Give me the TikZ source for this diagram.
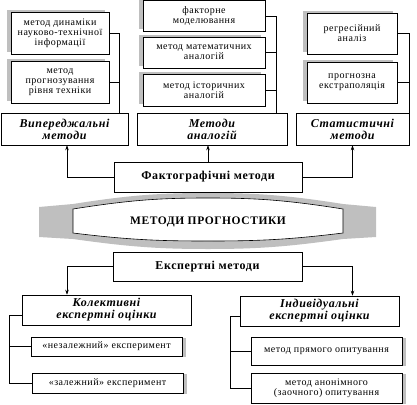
\documentclass[tikz,border=0pt]{standalone}
\usepackage{fontspec}
\setmainfont[LetterSpace=5]{Liberation Serif}
\usetikzlibrary{arrows.meta, shadows}

\begin{document}
\begin{tikzpicture}[x=1pt, y=-1pt,
    every node/.style={font=\fontsize{10}{10}\selectfont},
    box/.style={
        rectangle, draw=black, line width=0.6pt,
        fill=white, align=center, inner sep=1pt
    },
    upbox/.style={box,
        general shadow={fill=black!25, shadow xshift=-4pt, shadow yshift=2pt}},
    downbox/.style={box,
        general shadow={fill=black!25, shadow xshift=4pt, shadow yshift=-1pt}},
    titlebox/.style={box, font=\fontsize{12}{12}\selectfont\bfseries\itshape},
    mainbox/.style={box, font=\fontsize{12}{12}\selectfont\bfseries},
    link/.style={line width=0.6pt},
    arrow/.style={link, -{Stealth[length=5pt, width=3.5pt]}},
]
\useasboundingbox (0,0) rectangle (417,404);

% Шини
\coordinate (lbus) at (119,0);
\coordinate (mbus) at (276,0);
\coordinate (lcol) at (67,0);
\coordinate (kbus) at (9,0);
\coordinate (ibus) at (230,0);

% Випереджальні методи
\node[upbox, minimum width=98, minimum height=42] (dyn) at (60,33)
    {метод динаміки\\науково-технічної\\інформації};
\node[upbox, minimum width=98, minimum height=42] (prog) at (60,82)
    {метод\\прогнозування\\рівня техніки};
\node[titlebox, minimum width=127, minimum height=32] (vyp) at (64.5,129)
    {Випереджальні\\методи};

% Методи аналогій
\node[upbox, minimum width=122, minimum height=31] (fact) at (204,16)
    {факторне\\моделювання};
\node[upbox, minimum width=122, minimum height=31] (math) at (204,52.5)
    {метод математичних\\аналогій};
\node[upbox, minimum width=122, minimum height=32] (hist) at (204,90)
    {метод історичних\\аналогій};
\node[titlebox, minimum width=150, minimum height=32] (anal) at (212,129)
    {Методи\\аналогій};

% Статистичні методи
\node[upbox, minimum width=90, minimum height=41] (regr) at (352,33.5)
    {регресійний\\аналіз};
\node[upbox, minimum width=90, minimum height=41] (extr) at (352,82.5)
    {прогнозна\\екстраполяція};
\node[titlebox, minimum width=113, minimum height=32] (stat) at (352.5,129)
    {Статистичні\\методи};

\node[mainbox, minimum width=188, minimum height=30] (factogr) at (208,177)
    {Фактографічні методи};

% Стрічка
\fill[black!25] (39,207) -- (73,204)
    .. controls (130,195) and (160,193) .. (208,193)
    .. controls (256,193) and (286,195) .. (343,204)
    -- (376,207) -- (376,237) -- (343,239)
    .. controls (286,247) and (256,249) .. (208,249)
    .. controls (160,249) and (130,247) .. (73,239)
    -- (39,237) -- cycle;
\draw[link, fill=white] (73,209)
    .. controls (130,200) and (160,198) .. (208,198)
    .. controls (256,198) and (286,200) .. (343,209)
    -- (343,233)
    .. controls (286,240) and (256,241) .. (208,241)
    .. controls (160,241) and (130,240) .. (73,233)
    -- cycle;
\node[mainbox, draw=none, fill=none, font=\fontsize{11.5}{12}\selectfont\bfseries]
    (progn) at (208,222) {МЕТОДИ ПРОГНОСТИКИ};

% Експертні методи
\node[mainbox, minimum width=189, minimum height=29] (expert) at (207.5,266.5)
    {Експертні методи};
\node[titlebox, minimum width=169, minimum height=30] (koll) at (106.5,310)
    {Колективні\\експертні оцінки};
\node[titlebox, minimum width=159, minimum height=30] (indiv) at (319.5,311)
    {Індивідуальні\\експертні оцінки};
\node[downbox, minimum width=151, minimum height=19] (nez) at (106.5,346.5)
    {«незалежний» експеримент};
\node[downbox, minimum width=151, minimum height=20] (zal) at (107.5,383)
    {«залежний» експеримент};
\node[downbox, minimum width=151, minimum height=28] (pryam) at (326.5,351)
    {метод прямого опитування};
\node[downbox, minimum width=151, minimum height=30] (anon) at (326.5,388)
    {метод анонімного\\(заочного) опитування};

% Зв'язки
\draw[link] (dyn.east) -| (vyp.north -| lbus);
\draw[link] (prog.east) -- (prog.east -| lbus);
\draw[link] (fact.east) -| (anal.north -| mbus);
\draw[link] (math.east) -- (math.east -| mbus);
\draw[link] (hist.east) -- (hist.east -| mbus);
\draw[link] (regr.east) -| (stat.north east);
\draw[link] (extr.east) -- (extr.east -| stat.east);

\draw[arrow] (factogr.west) -| (vyp.south -| lcol);
\draw[arrow] (factogr.north) -- (factogr.north |- anal.south);
\draw[arrow] (factogr.east) -| (stat.south);

\draw[arrow] (expert.west) -| (koll.north -| lcol);
\draw[arrow] (expert.east) -| (indiv.north -| stat.south);

\draw[link] ([yshift=-5pt]koll.west) -| (zal.west -| kbus) -- (zal.west);
\draw[link] (nez.west -| kbus) -- (nez.west);
\draw[link] ([yshift=-5pt]indiv.west) -| (anon.west -| ibus) -- (anon.west);
\draw[link] (pryam.west -| ibus) -- (pryam.west);

\end{tikzpicture}
\end{document}
